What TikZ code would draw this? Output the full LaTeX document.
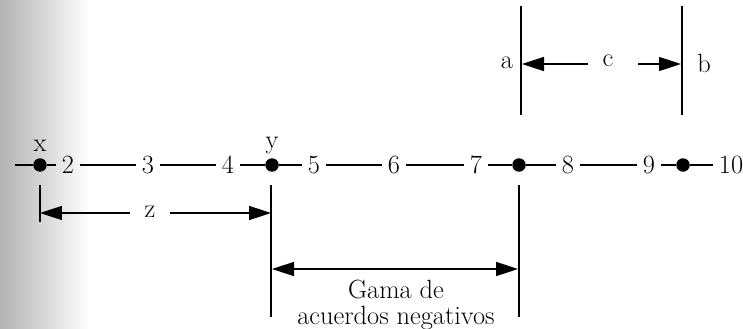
\documentclass[tikz,border=0pt]{standalone}
\usetikzlibrary{arrows.meta}

\tikzset{
  num/.style={inner sep=3pt, font=\fontsize{15}{17}\selectfont},
  lab/.style={inner sep=4pt, font=\fontsize{15}{17}\selectfont},
  dot/.style={circle, fill=black, inner sep=0pt, minimum size=0.27cm},
  bar/.style={line width=0.8pt},
  arr/.style={line width=0.9pt, -{Triangle[length=0.44cm,width=0.28cm]}},
  darr/.style={line width=0.9pt, {Triangle[length=0.44cm,width=0.28cm]}-{Triangle[length=0.44cm,width=0.28cm]}}
}

\begin{document}
\begin{tikzpicture}[x=0.02cm, y=-0.02cm]
\useasboundingbox (0,0) rectangle (743,328);
\shade[left color=black!30, right color=white] (0,0) rectangle (90,328);

% the scale
\coordinate (s) at (15,165);
\node[dot] (px) at (40,165) {};
\node[num] (n2) at (68,165) {2};
\node[num] (n3) at (148,165) {3};
\node[num] (n4) at (228,165) {4};
\node[dot] (py) at (272,165) {};
\node[num] (n5) at (314,165) {5};
\node[num] (n6) at (394,165) {6};
\node[num] (n7) at (476,165) {7};
\node[dot] (p7) at (519,165) {};
\node[num] (n8) at (568,165) {8};
\node[num] (n9) at (649,165) {9};
\node[dot] (p10) at (683,165) {};
\node[num] (n10) at (731,165) {10};
\draw[bar] (s) -- (px) -- (n2) -- (n3) -- (n4) -- (py) -- (n5) -- (n6) -- (n7) -- (p7) -- (n8) -- (n9) -- (p10) -- (n10);

\node[lab] (lx) at (40,146) {x};
\node[lab] (ly) at (272,146) {y};

% z
\coordinate (xt) at (40,185);
\coordinate (xb) at (40,222);
\coordinate (yt) at (271,185);
\coordinate (yb) at (271,317);
\draw[bar] (xt) -- (xb);
\draw[bar] (yt) -- (yb);
\node[lab, inner sep=8pt] (z) at (150,212) {z};
\coordinate (zl) at (40,213);
\coordinate (zr) at (271,213);
\draw[arr] (z.west |- zl) -- (zl);
\draw[arr] (z.east |- zr) -- (zr);

% Gama
\coordinate (gt) at (519,185);
\coordinate (gb) at (519,317);
\draw[bar] (gt) -- (gb);
\coordinate (gl) at (272,269);
\coordinate (gr) at (518,269);
\draw[darr] (gl) -- (gr);
\node[lab, align=center, inner sep=0pt] (gama) at (396,305) {Gama de\\[-2pt]acuerdos negativos};

% a, b, c
\coordinate (at) at (521,6);
\coordinate (ab) at (521,115);
\coordinate (bt) at (682,6);
\coordinate (bb) at (682,115);
\draw[bar] (at) -- (ab);
\draw[bar] (bt) -- (bb);
\node[lab] (la) at (507,63) {a};
\node[lab] (lb) at (704,63) {b};
\node[lab, inner sep=8pt] (c) at (608,61) {c};
\coordinate (cl) at (522,64);
\coordinate (cr) at (681,64);
\draw[arr] (c.west |- cl) -- (cl);
\draw[arr] ([xshift=0.2cm]c.east |- cr) -- (cr);
\end{tikzpicture}
\end{document}
